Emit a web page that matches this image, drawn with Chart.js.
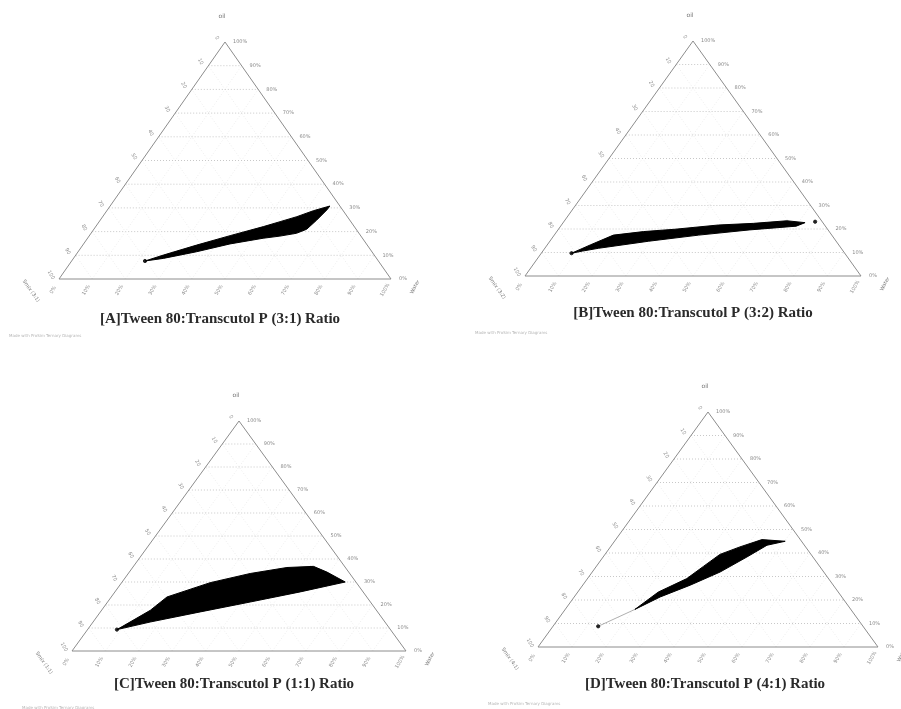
<!DOCTYPE html>
<html>
<head>
<meta charset="utf-8">
<script src="https://cdn.jsdelivr.net/npm/chart.js@4.4.0/dist/chart.umd.min.js"></script>
<style>
  html, body { margin: 0; padding: 0; background: #fff; }
  #wrap { position: relative; width: 901px; height: 709px; overflow: hidden; }
  canvas { position: absolute; }
</style>
</head>
<body>
<div id="wrap">
  <canvas id="chartA" width="450" height="354" style="left:0;top:0"></canvas>
  <canvas id="chartB" width="451" height="354" style="left:450px;top:0"></canvas>
  <canvas id="chartC" width="450" height="355" style="left:0;top:354px"></canvas>
  <canvas id="chartD" width="451" height="355" style="left:450px;top:354px"></canvas>
</div>
<script>
// ternary axes: oil (apex), Smix (bottom left), water (bottom right), in %
const titles = [
  '[A]Tween 80:Transcutol P (3:1) Ratio',
  '[B]Tween 80:Transcutol P (3:2) Ratio',
  '[C]Tween 80:Transcutol P (1:1) Ratio',
  '[D]Tween 80:Transcutol P (4:1) Ratio'
];
const smixNames = ['Smix (3:1)', 'Smix (3:2)', 'Smix (1:1)', 'Smix (4:1)'];
const ticks = [0, 10, 20, 30, 40, 50, 60, 70, 80, 90, 100];
const oilTickLabels = ticks.map(t => t + '%');
const waterTickLabels = ticks.map(t => t + '%');
const smixTickLabels = ticks.map(t => String(t));

// nanoemulsion region boundaries (% oil, % water)
const oilA = [7.6, 10.1, 14.3, 18.3, 22.1, 24.2, 26.3, 28.8, 30.8, 29.1, 24.9, 21.0, 19.3, 18.1, 17.2, 14.8, 11.5, 8.7, 7.6];
const waterA = [22.1, 26.4, 34.3, 42.4, 50.5, 54.5, 58.5, 62.2, 66.2, 66.1, 65.2, 64.1, 61.9, 57.5, 52.9, 44.1, 35.7, 27.1, 22.1];

const oilB = [9.7, 13.2, 17.4, 18.9, 19.9, 21.7, 22.4, 23.5, 22.7, 21.2, 19.6, 17.4, 14.8, 11.8, 10.6, 9.7];
const waterB = [9.0, 12.8, 17.6, 25.8, 34.7, 46.7, 56.8, 66.2, 72.0, 70.1, 56.9, 43.0, 29.4, 16.0, 11.8, 9.0];

const oilC = [9.3, 17.7, 23.5, 29.7, 33.7, 36.3, 36.8, 34.3, 30.0, 25.7, 21.3, 17.0, 12.6, 9.3];
const waterC = [8.8, 14.6, 16.7, 26.5, 36.5, 46.2, 53.9, 59.2, 66.8, 55.5, 42.7, 29.9, 17.1, 8.8];

const oilD = [16.0, 23.4, 29.1, 34.3, 39.4, 42.6, 45.7, 45.0, 43.3, 38.3, 31.9, 26.3, 21.3, 16.0];
const waterD = [20.5, 23.7, 29.2, 31.5, 33.8, 38.1, 43.0, 50.2, 45.7, 42.3, 37.6, 31.6, 25.3, 20.5];

// isolated formulation points
const dotOilA = [7.6], dotWaterA = [22.1];
const dotOilB = [9.7, 23.1], dotWaterB = [9.0, 74.8];
const dotOilC = [9.3], dotWaterC = [8.8];
const dotOilD = [8.8], dotWaterD = [13.3];
// faint tie line in D from the lone point to the region
const tieOilD = [8.8, 16.0], tieWaterD = [13.3, 20.5];

function tern(oil, water) {
  return { x: water + oil / 2, y: oil };
}
function toPoints(oil, water) {
  return oil.map((o, i) => tern(o, water[i]));
}

const ternaryPlugin = {
  id: 'ternary',
  beforeDatasetsDraw(chart) {
    const { ctx } = chart;
    const xs = chart.scales.x, ys = chart.scales.y;
    const px = (o, w) => {
      const p = tern(o, w);
      return [xs.getPixelForValue(p.x), ys.getPixelForValue(p.y)];
    };
    const seg = (a, b, color) => {
      ctx.strokeStyle = color;
      ctx.beginPath();
      ctx.moveTo(a[0], a[1]);
      ctx.lineTo(b[0], b[1]);
      ctx.stroke();
    };
    ctx.save();
    ctx.lineWidth = 1;
    ctx.setLineDash([1, 2]);
    ticks.slice(1, -1).forEach(t => {
      seg(px(t, 0), px(t, 100 - t), '#c8c8c8');          // oil
      seg(px(0, t), px(100 - t, t), '#ececec');          // water
      seg(px(0, 100 - t), px(100 - t, 0), '#ececec');    // smix
    });
    ctx.restore();
  },
  afterDraw(chart, args, opts) {
    const { ctx } = chart;
    const xs = chart.scales.x, ys = chart.scales.y;
    const px = (o, w) => {
      const p = tern(o, w);
      return [xs.getPixelForValue(p.x), ys.getPixelForValue(p.y)];
    };
    const text = (s, x, y, rot, align, font, color) => {
      ctx.save();
      ctx.translate(x, y);
      ctx.rotate(rot * Math.PI / 180);
      ctx.font = font;
      ctx.fillStyle = color;
      ctx.textAlign = align;
      ctx.textBaseline = 'middle';
      ctx.fillText(s, 0, 0);
      ctx.restore();
    };
    const small = '5px "DejaVu Sans"';
    const grey = '#8a8a8a';

    ticks.forEach((t, i) => {
      // oil on the right edge
      let p = px(t, 100 - t);
      text(oilTickLabels[i], p[0] + 8, p[1], 0, 'left', small, grey);
      // smix on the left edge
      p = px(100 - t, 0);
      text(smixTickLabels[i], p[0] - 8, p[1] - 4, 60, 'center', small, grey);
      // water on the base
      p = px(0, t);
      text(waterTickLabels[i], p[0] - 6, p[1] + 11, -60, 'center', small, grey);
    });

    const apex = px(100, 0), bl = px(0, 0), br = px(0, 100);
    text('oil', apex[0] - 3, apex[1] - 26, 0, 'center', '6px "DejaVu Sans"', '#777');
    text(opts.smix, bl[0] - 28, bl[1] + 12, 55, 'center', '5px "DejaVu Sans"', '#777');
    text('Water', br[0] + 24, br[1] + 8, -62, 'center', '5px "DejaVu Sans"', '#777');

    text(opts.title, apex[0] + opts.titleDx, bl[1] + opts.titleDy, 0, 'center',
      'bold 15px "Liberation Serif"', '#2a2a2a');
    text('Made with ProSim Ternary Diagrams', bl[0] - 50, bl[1] + 57, 0, 'left',
      '4px "DejaVu Sans"', '#b5b5b5');
  }
};

function makeChart(id, pad, region, dots, extra, idx, titleDx, titleDy) {
  const datasets = [
    {
      data: [tern(0, 0), tern(0, 100), tern(100, 0), tern(0, 0)],
      showLine: true, borderColor: '#8c8c8c', borderWidth: 1,
      pointRadius: 0, fill: false, clip: false
    },
    {
      data: region,
      showLine: true, borderColor: '#000', borderWidth: 1,
      backgroundColor: '#000', fill: 'shape', pointRadius: 0, clip: false
    },
    {
      data: dots,
      showLine: false, pointRadius: 1.6, pointBackgroundColor: '#222',
      pointBorderColor: '#222', clip: false
    }
  ];
  if (extra) {
    datasets.push({
      data: extra, showLine: true, borderColor: '#9a9a9a', borderWidth: 0.8,
      pointRadius: 0, fill: false, clip: false
    });
  }
  return new Chart(document.getElementById(id), {
    type: 'scatter',
    data: { datasets },
    options: {
      responsive: false,
      animation: false,
      events: [],
      layout: { padding: pad },
      scales: {
        x: { type: 'linear', min: 0, max: 100, display: false },
        y: { type: 'linear', min: 0, max: 100, display: false }
      },
      plugins: {
        legend: { display: false },
        tooltip: { enabled: false },
        ternary: { title: titles[idx], smix: smixNames[idx], titleDx, titleDy }
      }
    },
    plugins: [ternaryPlugin]
  });
}

makeChart('chartA', { left: 59, right: 59, top: 42, bottom: 75 },
  toPoints(oilA, waterA), toPoints(dotOilA, dotWaterA), null, 0, -5, 40);
makeChart('chartB', { left: 75, right: 40, top: 41, bottom: 78 },
  toPoints(oilB, waterB), toPoints(dotOilB, dotWaterB), null, 1, 0, 37);
makeChart('chartC', { left: 72, right: 44, top: 67, bottom: 58 },
  toPoints(oilC, waterC), toPoints(dotOilC, dotWaterC), null, 2, -5, 33);
makeChart('chartD', { left: 88, right: 23, top: 58, bottom: 62 },
  toPoints(oilD, waterD), toPoints(dotOilD, dotWaterD), toPoints(tieOilD, tieWaterD), 3, -3, 37);
</script>
</body>
</html>
